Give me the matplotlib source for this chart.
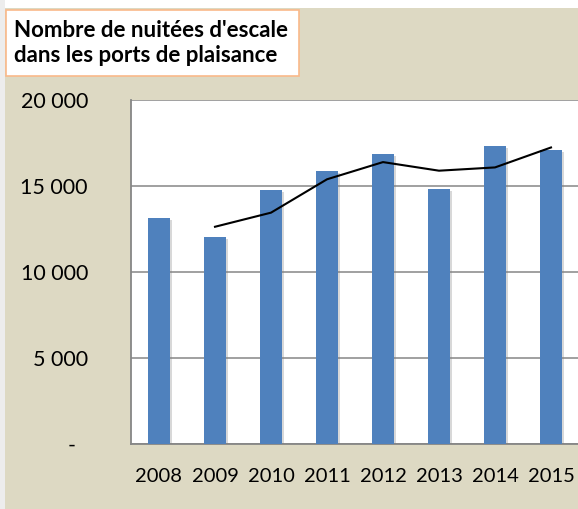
import matplotlib
matplotlib.use('Agg')
import matplotlib.pyplot as plt
import matplotlib.patheffects as pe
from matplotlib.patches import Rectangle
from matplotlib.transforms import ScaledTranslation

years = ['2008', '2009', '2010', '2011', '2012', '2013', '2014', '2015']
nights = [13140, 12040, 14770, 15870, 16880, 14820, 17320, 17070]
# moving average (2 periods), starts in 2009
avg_years = ['2009', '2010', '2011', '2012', '2013', '2014', '2015']
avg_values = [12630, 13450, 15390, 16390, 15890, 16080, 17240]
y_ticks = [0, 5000, 10000, 15000, 20000]
y_labels = ['-', '5 000', '10 000', '15 000', '20 000']

W, H = 578, 509
fig = plt.figure(figsize=(W / 100, H / 100), dpi=100)
fig.patch.set_facecolor('white')

# beige chart area
fig.patches.append(Rectangle((5 / W, 0), 1, 1 - 8 / H, transform=fig.transFigure,
                             facecolor='#DDD9C3', edgecolor='none', zorder=-2))
fig.patches.append(Rectangle((0, 0), 5 / W, 1, transform=fig.transFigure,
                             facecolor='#EDEDED', edgecolor='none', zorder=-2))

ax = fig.add_axes([131 / W, (509 - 444) / H, 448 / W, 344 / H])
ax.set_facecolor('white')

x = list(range(len(years)))
bars = ax.bar(x, nights, width=0.4, color='#4F81BD', zorder=3)
for b in bars:
    b.set_path_effects([pe.SimplePatchShadow(offset=(1.5, -1.5), shadow_rgbFace='#808080', alpha=0.3),
                        pe.Normal()])

xa = [years.index(y) for y in avg_years]
ax.plot(xa, avg_values, color='black', linewidth=1.5, zorder=4)

ax.set_xlim(-0.5, len(years) - 0.5)
ax.set_ylim(0, 20000)
ax.set_yticks(y_ticks)
ax.set_yticklabels(y_labels)
ax.set_xticks(x)
ax.set_xticklabels(years)

ax.yaxis.grid(True, color='#868686', linewidth=1.1, zorder=1)
ax.set_axisbelow(True)
for s in ['top', 'right']:
    ax.spines[s].set_visible(False)
for s in ['left', 'bottom']:
    ax.spines[s].set_color('#868686')
    ax.spines[s].set_linewidth(1.3)

ax.tick_params(axis='x', length=0, labelsize=14.5, pad=17)
ax.tick_params(axis='y', length=0, labelsize=15.5, pad=31)
for lbl in ax.get_xticklabels() + ax.get_yticklabels():
    lbl.set_fontfamily('Lato')
    lbl.set_color('black')
# the dash for zero sits a bit more to the left
zero_lbl = ax.get_yticklabels()[0]
zero_lbl.set_transform(zero_lbl.get_transform() + ScaledTranslation(-12 / 100, 0, fig.dpi_scale_trans))

# title box
fig.patches.append(Rectangle((6 / W, 1 - 76 / H), 293 / W, 66 / H, transform=fig.transFigure,
                             facecolor='white', edgecolor='#F9B98A', linewidth=1.2, zorder=2))
fig.text(14 / W, 1 - 43 / H, "Nombre de nuitées d'escale\ndans les ports de plaisance",
         fontfamily='Lato', fontweight='bold', fontsize=16, ha='left', va='center',
         linespacing=1.2, zorder=3)

fig.savefig('out.png', dpi=100)
